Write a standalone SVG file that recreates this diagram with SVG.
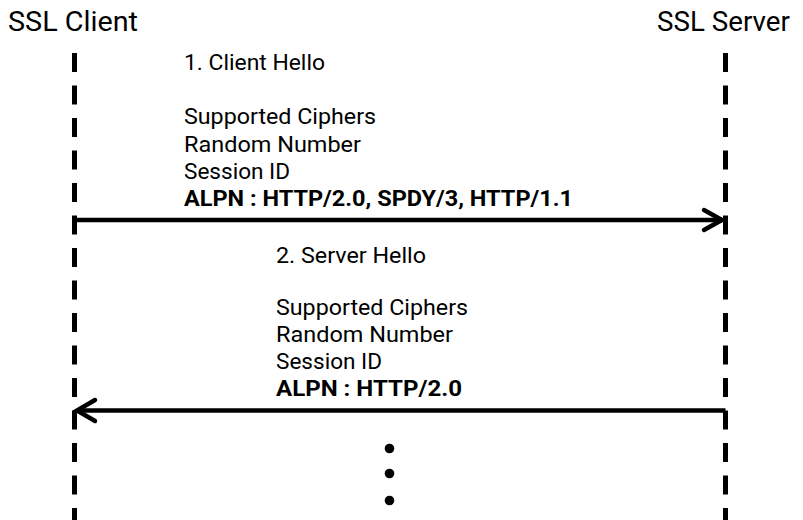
<svg xmlns="http://www.w3.org/2000/svg" width="803" height="520" viewBox="0 0 803 520">
<style>
text{font-family:Roboto,"Open Sans",sans-serif;fill:#000}
.title{font-size:28.5px}
.msg{font-size:22px}
.b{font-weight:bold}
.life{stroke:#000;stroke-width:5;stroke-dasharray:19 13.5;fill:none}
.conn{stroke:#000;stroke-width:4.5;fill:none}
.head{stroke:#000;stroke-width:4.5;fill:none;stroke-linecap:round;stroke-linejoin:miter}
</style>
<rect width="803" height="520" fill="#fff"/>
<g id="client">
<text class="title" x="8" y="31" textLength="130" lengthAdjust="spacingAndGlyphs">SSL Client</text>
<line class="life" x1="74.5" y1="53" x2="74.5" y2="520"/>
</g>
<g id="server">
<text class="title" x="657" y="31" textLength="133" lengthAdjust="spacingAndGlyphs">SSL Server</text>
<line class="life" x1="725.5" y1="53" x2="725.5" y2="520"/>
</g>
<g id="connectors">
<line class="conn" x1="74.5" y1="220" x2="722" y2="220"/>
<polyline class="head" points="704,210 722,220 704,230"/>
<line class="conn" x1="77" y1="410.5" x2="725.5" y2="410.5"/>
<polyline class="head" points="95,400 77,410.5 95,421"/>
</g>
<g id="msg1">
<text class="msg" x="184" y="70" textLength="141" lengthAdjust="spacingAndGlyphs">1. Client Hello</text>
<text class="msg" x="184" y="124" textLength="192" lengthAdjust="spacingAndGlyphs">Supported Ciphers</text>
<text class="msg" x="184" y="151.5" textLength="177" lengthAdjust="spacingAndGlyphs">Random Number</text>
<text class="msg" x="184" y="178.5" textLength="106" lengthAdjust="spacingAndGlyphs">Session ID</text>
<text class="msg b" x="184" y="205.5" textLength="389" lengthAdjust="spacingAndGlyphs">ALPN : HTTP/2.0, SPDY/3, HTTP/1.1</text>
</g>
<g id="msg2">
<text class="msg" x="276" y="263" textLength="150" lengthAdjust="spacingAndGlyphs">2. Server Hello</text>
<text class="msg" x="276" y="315" textLength="192" lengthAdjust="spacingAndGlyphs">Supported Ciphers</text>
<text class="msg" x="276" y="342" textLength="177" lengthAdjust="spacingAndGlyphs">Random Number</text>
<text class="msg" x="276" y="369" textLength="106" lengthAdjust="spacingAndGlyphs">Session ID</text>
<text class="msg b" x="276" y="396" textLength="186" lengthAdjust="spacingAndGlyphs">ALPN : HTTP/2.0</text>
</g>
<g id="ellipsis">
<circle cx="389.5" cy="448.5" r="4.8"/>
<circle cx="389.5" cy="473.5" r="4.8"/>
<circle cx="389.5" cy="500.5" r="4.8"/>
</g>
</svg>
